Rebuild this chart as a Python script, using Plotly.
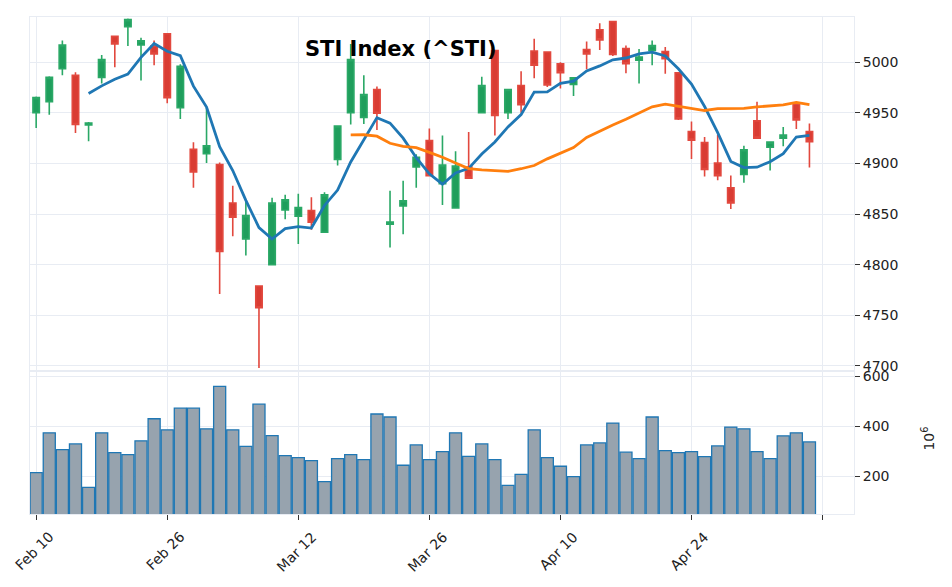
import pandas as pd
import plotly.graph_objects as go

# ---------------------------------------------------------------------------
# data - one row per trading session
# ---------------------------------------------------------------------------
opens = [4950, 4961, 4993.5, 4987, 4938, 4985, 5025.5, 5035, 5017, 5016,
         5028, 4955, 4914, 4909.5, 4899, 4861, 4825.5, 4779, 4800, 4854,
         4848, 4853.5, 4832, 4904, 4950, 4945.5, 4973, 4840, 4858, 4896.5,
         4922.5, 4880, 4856, 4896.5, 4950, 5011.5, 4950, 4977, 5011, 5010,
         4998.5, 4978, 5012.5, 5032, 5040, 5013.5, 5002, 5011.5, 5010.5, 4989.5,
         4931.5, 4920.5, 4900.5, 4876, 4889, 4942, 4916, 4925, 4958.5, 4931.5]
highs = [4966, 4986, 5021.5, 4990, 4941, 5007, 5026, 5043, 5024, 5021.5,
         5028.5, 4998, 4921, 4955, 4901, 4878, 4862, 4779.5, 4866, 4869,
         4870, 4866.5, 4871.5, 4937, 5018, 4987, 4976, 4873, 4883, 4909,
         4934.5, 4927.5, 4912, 4931, 4985.5, 5011.5, 4973, 4991, 5023, 5010,
         5000, 4985, 5020.5, 5038.5, 5040.5, 5016.5, 5013, 5021.5, 5015, 4990,
         4941.5, 4926, 4928, 4888, 4917.5, 4961, 4921, 4936, 4961, 4939.5]
lows = [4935, 4948, 4987, 4930, 4922, 4979, 4995, 5016, 4982, 4997,
        4959.5, 4944, 4876, 4900.5, 4771, 4828, 4809, 4698, 4800, 4845,
        4820.5, 4834.5, 4831.5, 4898, 4938.5, 4939, 4933, 4817, 4830, 4876,
        4888, 4859, 4856, 4885.5, 4950, 4927.5, 4944, 4950, 4984, 4975.5,
        4974, 4966.5, 4993, 5012, 5006, 4989, 4979, 4997, 4988.5, 4943,
        4904.5, 4887, 4883.5, 4855, 4881, 4925, 4893, 4917, 4934, 4896]
closes = [4965, 4985, 5017, 4938.5, 4940, 5002.5, 5018, 5042, 5021, 5008,
          4965, 4996, 4891.5, 4917.5, 4813, 4847, 4848.5, 4757.5, 4861, 4864,
          4856.5, 4842, 4869, 4937, 5002.5, 4968, 4949.5, 4842, 4863, 4906,
          4888, 4898.5, 4897.5, 4885.5, 4977, 4947.5, 4973, 4958, 4997, 4977.5,
          4989.5, 4984.5, 5008, 5022, 5007.5, 4998.5, 5005, 5016.5, 5003.5, 4944,
          4923, 4894, 4888, 4861, 4913.5, 4925, 4921, 4928, 4943, 4921.5]
# volume in millions (axis shows 10^6)
volume_m = [216, 374, 307, 330, 157, 374, 295, 287, 342, 430,
            386, 472, 472, 390, 559, 386, 320, 488, 363, 283,
            275, 263, 180, 271, 287, 267, 449, 437, 245, 326,
            267, 299, 374, 280, 330, 267, 165, 209, 386, 275,
            241, 200, 326, 334, 413, 297, 271, 437, 303, 295,
            299, 279, 322, 397, 390, 299, 271, 362, 374, 338]

tick_pos = [0, 10, 20, 30, 40, 50, 60]
tick_labels = ["Feb 10", "Feb 26", "Mar 12", "Mar 26", "Apr 10", "Apr 24", ""]
price_ticks = [4700, 4750, 4800, 4850, 4900, 4950, 5000]
volume_ticks = [200, 400, 600]

idx = list(range(len(closes)))
ma5 = pd.Series(closes).rolling(5).mean()
ma25 = pd.Series(closes).rolling(25).mean()

# ---------------------------------------------------------------------------
# styling
# ---------------------------------------------------------------------------
GREEN, GREEN_EDGE = "#1f9e5c", "#2aa866"
RED, RED_EDGE = "#d93c33", "#e2483e"
GRID = "#e8ecf3"
FONT = "DejaVu Sans"
X_RANGE = [-0.47, 62.4]

fig = go.Figure()

fig.add_trace(go.Candlestick(
    x=idx, open=opens, high=highs, low=lows, close=closes,
    increasing=dict(fillcolor=GREEN, line=dict(color=GREEN_EDGE, width=1.6)),
    decreasing=dict(fillcolor=RED, line=dict(color=RED_EDGE, width=1.6)),
    whiskerwidth=0, name="^STI", xaxis="x", yaxis="y",
))
fig.add_trace(go.Scatter(x=idx, y=ma5, mode="lines", name="MA5",
                         line=dict(color="#1f77b4", width=2.8),
                         xaxis="x", yaxis="y"))
fig.add_trace(go.Scatter(x=idx, y=ma25, mode="lines", name="MA25",
                         line=dict(color="#ff7f0e", width=2.8),
                         xaxis="x", yaxis="y"))
fig.add_trace(go.Bar(x=idx, y=volume_m, width=0.92, name="Volume",
                     marker=dict(color="#97a3ae",
                                 line=dict(color="#1f77b4", width=1.3)),
                     xaxis="x2", yaxis="y2"))

axis_common = dict(showgrid=True, gridcolor=GRID, gridwidth=1,
                   showline=True, linecolor=GRID, linewidth=1, mirror=True,
                   zeroline=False)

# the page body adds an 8px offset, so margins are pulled in to compensate
fig.update_layout(
    width=952, height=587,
    margin=dict(l=22, r=106, t=5, b=81),
    paper_bgcolor="white", plot_bgcolor="white",
    font=dict(family=FONT, size=14, color="#222"),
    showlegend=False,
    xaxis=dict(domain=[0, 1], anchor="y", range=X_RANGE, tickvals=tick_pos,
               showticklabels=False, ticks="",
               rangeslider=dict(visible=False), **axis_common),
    yaxis=dict(domain=[0.2897, 1], anchor="x", side="right",
               range=[4696, 5044.6], tickvals=price_ticks,
               ticks="outside", ticklen=5, tickcolor="#333", **axis_common),
    xaxis2=dict(domain=[0, 1], anchor="y2", range=X_RANGE, tickvals=tick_pos,
                showticklabels=False, ticks="outside", ticklen=5,
                tickcolor="#333", **axis_common),
    yaxis2=dict(domain=[0, 0.2857], anchor="x2", side="right",
                range=[51, 616], tickvals=volume_ticks,
                ticks="outside", ticklen=5, tickcolor="#333", **axis_common),
)

# rotated date labels centred under their ticks
for pos, label in zip(tick_pos, tick_labels):
    if label:
        fig.add_annotation(x=pos, y=0, xref="x2", yref="paper",
                           text=label, textangle=-45, showarrow=False,
                           xanchor="center", yanchor="top", yshift=-12,
                           xshift=-2,
                           font=dict(family=FONT, size=14, color="#222"))

# title and volume multiplier
fig.add_annotation(x=0.45, y=0.935, xref="paper", yref="paper",
                   text="<b>STI Index (^STI)</b>", showarrow=False,
                   xanchor="center", yanchor="middle",
                   font=dict(family=FONT, size=21, color="black"))
fig.add_annotation(x=1.09, y=0.152, xref="paper", yref="paper",
                   text="10<sup>6</sup>", textangle=-90, showarrow=False,
                   xanchor="center", yanchor="middle",
                   font=dict(family=FONT, size=14, color="#222"))

fig.write_html("out.html")
